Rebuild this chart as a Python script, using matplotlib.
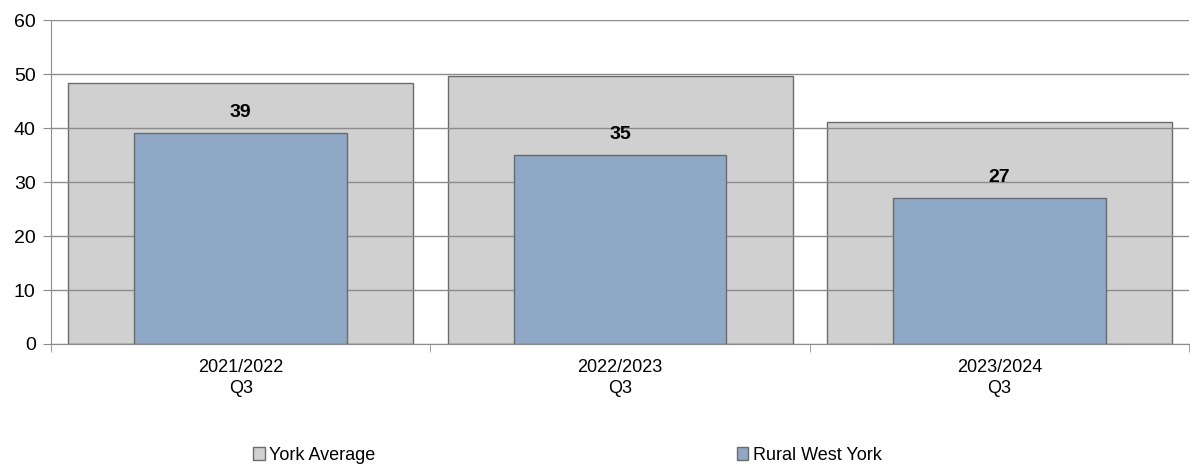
import numpy as np
from matplotlib import pyplot as plt
from matplotlib.patches import Patch

plt.rcParams['font.family'] = ['Liberation Sans', 'DejaVu Sans']

# data
categories = ["2021/2022\nQ3", "2022/2023\nQ3", "2023/2024\nQ3"]
york_avg = [48.4, 49.6, 41.2]
rural_west = [39, 35, 27]

grey = "#d0d0d0"
blue = "#8ea8c6"
edge = "#6b6b6b"

fig = plt.figure(figsize=(11.97, 4.68), dpi=100)
ax = fig.add_axes([0.0426, 0.265, 0.951, 0.692])

x = np.arange(len(categories))
ax.bar(x, york_avg, width=0.91, color=grey, edgecolor=edge, linewidth=1, zorder=1)
ax.bar(x, rural_west, width=0.56, color=blue, edgecolor=edge, linewidth=1, zorder=3)

for xi, v in zip(x, rural_west):
    ax.text(xi, v + 2.3, str(v), ha="center", va="bottom", fontsize=14, fontweight="bold", zorder=4)

ax.set_xlim(-0.5, len(categories) - 0.5)
ax.set_ylim(0, 60)
ax.set_yticks(range(0, 61, 10))
ax.yaxis.grid(True, color="#8c8c8c", linewidth=1)
for gl in ax.get_ygridlines():
    gl.set_zorder(2)

ax.set_xticks(x)
ax.set_xticklabels(categories, fontsize=13, linespacing=1.3)
ax.set_xticks(np.arange(-0.5, len(categories)), minor=True)
ax.tick_params(axis="x", which="major", length=0, pad=11)
ax.tick_params(axis="x", which="minor", length=6, color="#8c8c8c")
ax.tick_params(axis="y", labelsize=14, length=6, color="#8c8c8c", pad=5)

for s in ["top", "right"]:
    ax.spines[s].set_visible(False)
ax.spines["left"].set_color("#8c8c8c")
ax.spines["bottom"].set_color("#8c8c8c")

handles = [Patch(facecolor=grey, edgecolor=edge, label="York Average"),
           Patch(facecolor=blue, edgecolor=edge, label="Rural West York")]
fig.legend(handles=handles, loc="center", bbox_to_anchor=(0.474, 0.027), ncol=2,
           frameon=False, fontsize=13, handlelength=0.65, handleheight=0.65,
           handletextpad=0.25, columnspacing=20)

fig.savefig("out.png", dpi=100)
